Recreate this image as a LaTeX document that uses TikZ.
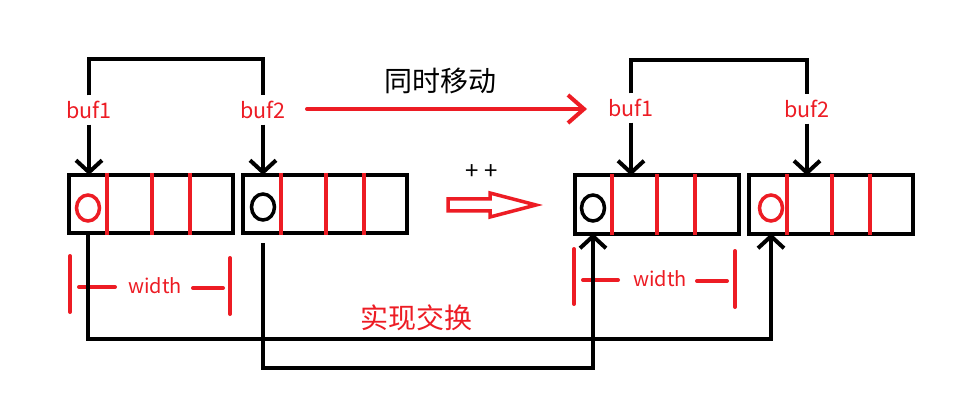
\documentclass[tikz,border=0pt]{standalone}
\usepackage{fontspec}
\setmainfont{Noto Sans CJK SC}
\usetikzlibrary{arrows.meta,shapes.geometric,calc}
\definecolor{pred}{HTML}{ED1C24}
\begin{document}
\begin{tikzpicture}[x=1pt,y=-1pt,
 buf/.style={draw=black,line width=4pt,minimum width=164pt,minimum height=58pt,inner sep=0pt,outer sep=0pt},
 div/.style={draw=pred,line width=3.5pt},
 ring/.style={ellipse,draw,line width=3.5pt,minimum width=23pt,minimum height=26pt,inner sep=0pt},
 lbl/.style={text=pred,font=\fontsize{21.5}{23}\selectfont,inner sep=0pt,minimum height=29pt},
 wtext/.style={text=pred,font=\fontsize{20}{22}\selectfont,inner sep=0pt},
 conn/.style={draw=black,line width=4pt},
 tip/.style={-{Straight Barb[length=12pt,width=26pt]}},
 wmark/.style={draw=pred,line width=4pt,line cap=round},
 bigtext/.style={font=\fontsize{28}{30}\selectfont,inner sep=0pt}
]
\useasboundingbox (0,0) rectangle (966,414);
\fill[white] (0,0) rectangle (966,414);

% buffers
\node[buf] (box1) at (151,204) {};
\node[buf] (box2) at (325,204) {};
\node[buf] (box3) at (656.5,204.5) {};
\node[buf] (box4) at (831,204.5) {};

% dividers
\foreach \x in {107,152,190,281,326,364} \draw[div] (\x,173) -- (\x,235);
\foreach \x in {612,657,695,787,832,870} \draw[div] (\x,174) -- (\x,235);

% rings
\node[ring,draw=pred] (o1) at (88,208) {};
\node[ring] (o2) at (263,207) {};
\node[ring] (o3) at (593,208) {};
\node[ring,draw=pred] (o4) at (771,208) {};

% labels
\node[lbl] (l1) at (89,110) {buf1};
\node[lbl] (l2) at (263,110) {buf2};
\node[lbl] (l3) at (631,108) {buf1};
\node[lbl] (l4) at (807,109) {buf2};

% brackets
\coordinate (top1) at (0,59);
\coordinate (top2) at (0,60);
\draw[conn] (l1.north) -- (l1.north |- top1) -| (l2.north);
\draw[conn] (l3.north) -- (l3.north |- top2) -| (l4.north);

% pointer arrows
\draw[conn,tip] (l1.south) -- (l1.south |- box1.north);
\draw[conn,tip] (l2.south) -- (l2.south |- box2.north);
\draw[conn,tip] (l3.south) -- (l3.south |- box3.north);
\draw[conn,tip] (l4.south) -- (l4.south |- box4.north);

% move arrow
\node[bigtext] (mv) at (440,81) {同时移动};
\draw[draw=pred,line width=4pt,line cap=round,-{Straight Barb[length=16pt,width=28pt]}] (307,109) -- (587,109);

% ++ and hollow arrow
\node[font=\fontsize{24}{26}\selectfont,inner sep=0pt] (pp) at (482,172) {+ +};
\draw[pred,line width=3.5pt,line join=miter] (448,199) -- (490,199) -- (490,193) -- (536,205) -- (490,217) -- (490,211) -- (448,211) -- cycle;

% width markers left
\draw[wmark] (70,256) -- (70,312);
\draw[wmark] (79,287) -- (115,287);
\node[wtext] (w1) at (155,286) {width};
\draw[wmark] (193,288) -- (223,288);
\draw[wmark] (230,258) -- (230,314);

% width markers right
\draw[wmark] (574,249) -- (574,304);
\draw[wmark] (583,280) -- (618,280);
\node[wtext] (w2) at (660,279) {width};
\draw[wmark] (697,281) -- (727,281);
\draw[wmark] (735,251) -- (735,307);

% exchange connectors
\coordinate (yb1) at (0,339);
\coordinate (yb2) at (0,368);
\draw[conn,tip] (o1 |- box1.south) -- (o1 |- yb1) -| (o4 |- box4.south);
\draw[conn,tip] ($(o2 |- box2.south)+(0,10)$) -- (o2 |- yb2) -| (o3 |- box3.south);

\node[bigtext,text=pred] (ex) at (416,318) {实现交换};
\end{tikzpicture}
\end{document}
